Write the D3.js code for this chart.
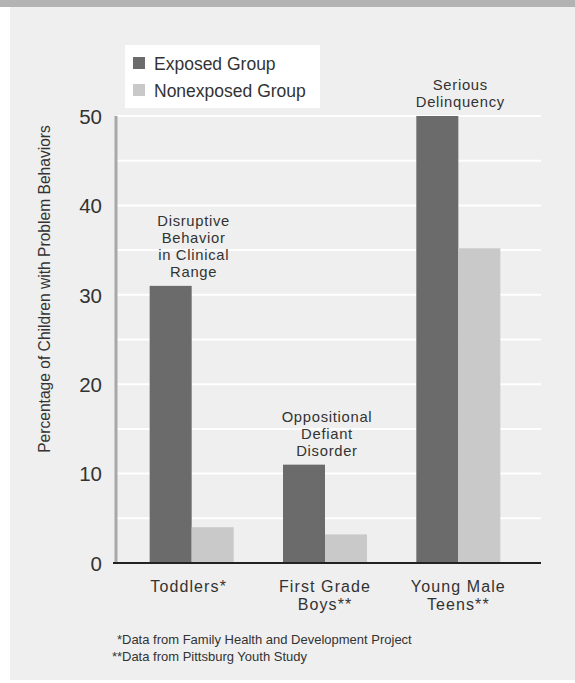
<!DOCTYPE html>
<html><head><meta charset="utf-8">
<script src="https://cdn.jsdelivr.net/npm/d3@7/dist/d3.min.js"></script>
<style>body{margin:0;background:#fff}svg{display:block}text{font-family:"Liberation Sans",Arial,sans-serif;fill:#333}</style>
</head><body>
<script>
const categories = ["Toddlers*", "First Grade Boys**", "Young Male Teens**"];
const categoryLines = [["Toddlers*"], ["First Grade", "Boys**"], ["Young Male", "Teens**"]];
const seriesNames = ["Exposed Group", "Nonexposed Group"];
const exposed = [31, 11, 50];
const nonexposed = [4, 3.2, 35.2];
const annotations = [["Disruptive", "Behavior", "in Clinical", "Range"], ["Oppositional", "Defiant", "Disorder"], ["Serious", "Delinquency"]];
const yTicks = [0, 10, 20, 30, 40, 50];
const gridValues = [5, 10, 15, 20, 25, 30, 35, 40, 45, 50];
const yLabel = "Percentage of Children with Problem Behaviors";
const footnotes = [["*", "Data from Family Health and Development Project"], ["**", "Data from Pittsburg Youth Study"]];
const colors = ["#6b6b6b", "#c9c9c9"];

const W = 575, H = 683;
const svg = d3.select("body").append("svg").attr("width", W).attr("height", H);
svg.append("rect").attr("width", W).attr("height", H).attr("fill", "#fff");
svg.append("rect").attr("x", 10).attr("y", 0).attr("width", W - 10).attr("height", 680).attr("fill", "#efefef");
svg.append("rect").attr("x", 0).attr("y", 0).attr("width", W).attr("height", 7).attr("fill", "#b3b3b3");

const y = d3.scaleLinear().domain([0, 50]).range([563, 116]);
const x = d3.scaleBand().domain(categories).range([125, 525]).paddingInner(0.37).paddingOuter(0.185);
const xs = d3.scaleBand().domain(seriesNames).range([0, x.bandwidth()]);

// gridlines
svg.append("g").selectAll("line").data(gridValues).join("line")
  .attr("x1", 117).attr("x2", 541).attr("y1", d => y(d)).attr("y2", d => y(d))
  .attr("stroke", "#fff").attr("stroke-width", 2);

// y axis line
svg.append("line").attr("x1", 116).attr("x2", 116).attr("y1", y(50)).attr("y2", y(0))
  .attr("stroke", "#a8a8a8").attr("stroke-width", 3);

// y tick labels
const yAxis = d3.axisLeft(y).tickValues(yTicks).tickSize(0).tickPadding(0);
const ya = svg.append("g").attr("transform", "translate(102,0)").call(yAxis);
ya.select(".domain").remove();
ya.selectAll("text").attr("font-size", 20.5).attr("fill", "#333").attr("dy", "0.36em")
  .style("font-family", "'Liberation Sans', Arial, sans-serif");

// bars
const groups = svg.append("g").selectAll("g").data(categories).join("g")
  .attr("transform", d => `translate(${x(d)},0)`);
const series = [exposed, nonexposed];
series.forEach((vals, si) => {
  groups.append("rect")
    .attr("x", xs(seriesNames[si])).attr("width", xs.bandwidth())
    .attr("y", (d, i) => y(vals[i])).attr("height", (d, i) => y(0) - y(vals[i]))
    .attr("fill", colors[si]);
});

// baseline
svg.append("line").attr("x1", 113).attr("x2", 541).attr("y1", y(0)).attr("y2", y(0))
  .attr("stroke", "#222").attr("stroke-width", 2);

// annotations
annotations.forEach((lines, i) => {
  const cx = x(categories[i]) + x.bandwidth() / 2 + 2;
  const bottom = y(exposed[i]) - 9;
  const n = lines.length;
  lines.forEach((l, j) => {
    svg.append("text").attr("text-anchor", "middle").attr("font-size", 14.8)
      .style("letter-spacing", "0.7px")
      .attr("x", cx).attr("y", bottom - (n - 1 - j) * 16.8).text(l);
  });
});

// x labels
categoryLines.forEach((lines, i) => {
  const cx = x(categories[i]) + x.bandwidth() / 2 - (i === 0 ? 3 : 0);
  lines.forEach((l, j) => svg.append("text").attr("text-anchor", "middle")
    .attr("font-size", 16).style("letter-spacing", "1.1px")
    .attr("x", cx).attr("y", 592 + j * 18).text(l));
});

// y label
svg.append("text").attr("transform", "translate(50,289) rotate(-90)")
  .attr("text-anchor", "middle").attr("font-size", 15.6).text(yLabel);

// legend
const lg = svg.append("g");
lg.append("rect").attr("x", 125).attr("y", 45).attr("width", 195).attr("height", 63).attr("fill", "#fff");
seriesNames.forEach((s, i) => {
  lg.append("rect").attr("x", 133).attr("y", 57 + i * 27).attr("width", 12).attr("height", 12).attr("fill", colors[i]);
  lg.append("text").attr("x", 154).attr("y", 69.5 + i * 27).attr("font-size", 17.5).text(s);
});

// footnotes
footnotes.forEach((f, i) => {
  const yy = 644 + i * 17;
  svg.append("text").attr("x", 122).attr("y", yy).attr("text-anchor", "end").attr("font-size", 13).text(f[0]);
  svg.append("text").attr("x", 122).attr("y", yy).attr("font-size", 13).text(f[1]);
});
</script>
</body></html>
